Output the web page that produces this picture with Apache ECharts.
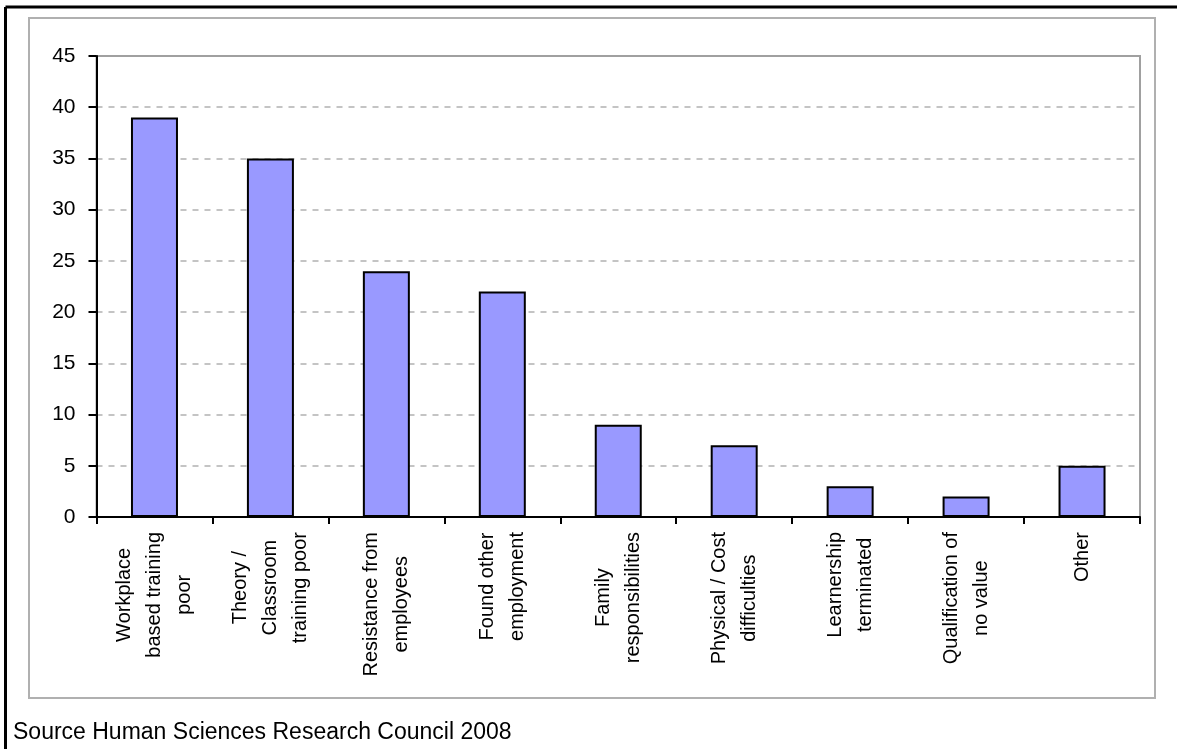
<!DOCTYPE html>
<html>
<head>
<meta charset="utf-8">
<style>
  html, body { margin: 0; padding: 0; background: #fff; }
  #chart { width: 1177px; height: 749px; }
</style>
<script src="https://cdn.jsdelivr.net/npm/echarts@6/dist/echarts.min.js"></script>
</head>
<body>
<div id="chart"></div>
<script>
// Reasons for leaving a learnership (%)
const categories = [
  'Workplace\nbased training\npoor',
  'Theory /\nClassroom\ntraining poor',
  'Resistance from\nemployees',
  'Found other\nemployment',
  'Family\nresponsibilities',
  'Physical / Cost\ndifficulties',
  'Learnership\nterminated',
  'Qualification of\nno value',
  'Other'
];
const values = [39, 35, 24, 22, 9, 7, 3, 2, 5];
const yTicks = { min: 0, max: 45, interval: 5 };
const sourceNote = 'Source Human Sciences Research Council 2008';

const FONT = '"Liberation Sans", Arial, sans-serif';

const chart = echarts.init(document.getElementById('chart'), null, { renderer: 'canvas' });

chart.setOption({
  animation: false,
  backgroundColor: '#ffffff',
  title: {
    text: sourceNote,
    left: 13,
    top: 721,
    padding: 0,
    textStyle: { fontFamily: FONT, fontSize: 23, fontWeight: 'normal', color: '#000' }
  },
  graphic: [
    // outer black frame (top and left edges)
    { type: 'line', silent: true, z: 100,
      shape: { x1: 5.5, y1: 7, x2: 1177, y2: 7 },
      style: { stroke: '#000', lineWidth: 3 } },
    { type: 'line', silent: true, z: 100,
      shape: { x1: 5.5, y1: 7, x2: 5.5, y2: 749 },
      style: { stroke: '#000', lineWidth: 3 } },
    // chart area frame
    { type: 'rect', silent: true, z: -10,
      shape: { x: 29, y: 18, width: 1126, height: 680 },
      style: { fill: 'none', stroke: '#b0b0b0', lineWidth: 2 } }
  ],
  grid: {
    left: 96.5, top: 56, right: 37, bottom: 232,
    show: true, borderColor: '#a0a0a0', borderWidth: 2, backgroundColor: 'transparent'
  },
  xAxis: {
    type: 'category',
    data: categories,
    boundaryGap: true,
    axisLine: { lineStyle: { color: '#000', width: 2 } },
    axisTick: { show: true, length: 7, lineStyle: { color: '#000', width: 2 } },
    axisLabel: {
      interval: 0,
      rotate: 90,
      margin: 15,
      formatter: function (v) {
        return v.split('\n').map(function (s) { return '{c|' + s + '}'; }).join('\n');
      },
      rich: {
        c: { align: 'center', fontFamily: FONT, fontSize: 20, lineHeight: 30, color: '#000' }
      }
    }
  },
  yAxis: {
    type: 'value',
    min: yTicks.min,
    max: yTicks.max,
    interval: yTicks.interval,
    axisLine: { show: true, lineStyle: { color: '#000', width: 2 } },
    axisTick: { show: true, length: 8, lineStyle: { color: '#000', width: 2 } },
    axisLabel: { margin: 21, fontFamily: FONT, fontSize: 21, color: '#000' },
    splitLine: {
      show: true,
      showMinLine: false,
      showMaxLine: false,
      lineStyle: { color: '#c4c4c4', width: 2, type: [6, 6] }
    }
  },
  series: [{
    type: 'bar',
    data: values,
    barWidth: 47,
    itemStyle: { color: '#9999ff', borderColor: '#000', borderWidth: 2 }
  }]
});
</script>
</body>
</html>
